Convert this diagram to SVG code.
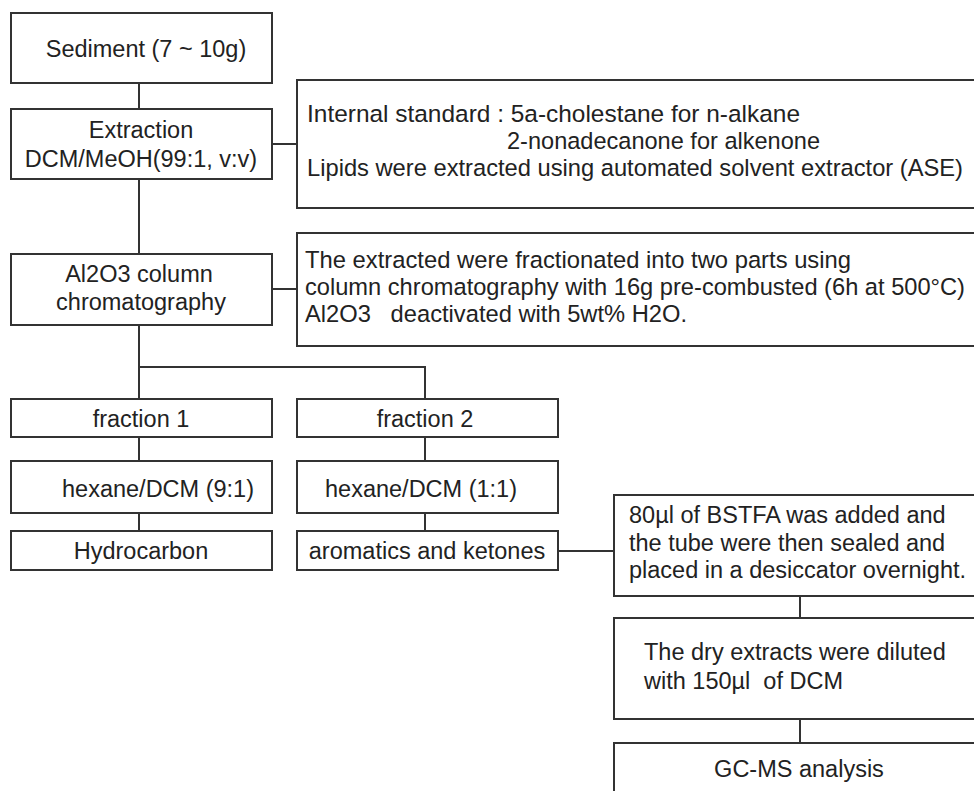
<svg xmlns="http://www.w3.org/2000/svg" width="974" height="791" viewBox="0 0 974 791">
<style>
.box{fill:#fff;stroke:#333;stroke-width:2}
.con{fill:none;stroke:#333;stroke-width:2}
text{font-family:"Liberation Sans",Arial,sans-serif;font-size:23.5px;fill:#222}
.n{font-size:24.5px}
.c{text-anchor:middle}
</style>
<rect width="974" height="791" fill="#fff"/>
<g id="connectors">
<path class="con" d="M139 83V109"/>
<path class="con" d="M272 144H297"/>
<path class="con" d="M139 179V254"/>
<path class="con" d="M272 289H297"/>
<path class="con" d="M139 325V399"/>
<path class="con" d="M139 367H425V399"/>
<path class="con" d="M139 437V461"/>
<path class="con" d="M425 437V461"/>
<path class="con" d="M139 513V531"/>
<path class="con" d="M425 513V531"/>
<path class="con" d="M558 551H614"/>
<path class="con" d="M800 596V618"/>
<path class="con" d="M800 719V743"/>
</g>
<g id="sediment">
<rect class="box" x="11" y="13" width="261" height="70"/>
<text class="c" x="146" y="57">Sediment (7 ~ 10g)</text>
</g>
<g id="extraction">
<rect class="box" x="11" y="109" width="261" height="70"/>
<text class="c" x="141" y="138">Extraction</text>
<text class="c" x="141" y="167">DCM/MeOH(99:1, v:v)</text>
</g>
<g id="note-extraction">
<rect class="box" x="297" y="80" width="690" height="128"/>
<text class="n" x="307" y="122" textLength="493" lengthAdjust="spacingAndGlyphs">Internal standard : 5a-cholestane for n-alkane</text>
<text class="n" x="507" y="149" textLength="313" lengthAdjust="spacingAndGlyphs">2-nonadecanone for alkenone</text>
<text class="n" x="307" y="176" textLength="656" lengthAdjust="spacingAndGlyphs">Lipids were extracted using automated solvent extractor (ASE)</text>
</g>
<g id="column">
<rect class="box" x="11" y="254" width="261" height="71"/>
<text class="c" x="139" y="282">Al2O3 column</text>
<text class="c" x="141" y="310">chromatography</text>
</g>
<g id="note-column">
<rect class="box" x="297" y="233" width="690" height="113"/>
<text class="n" x="305" y="268" textLength="546" lengthAdjust="spacingAndGlyphs">The extracted were fractionated into two parts using</text>
<text class="n" x="305" y="295" textLength="660" lengthAdjust="spacingAndGlyphs">column chromatography with 16g pre-combusted (6h at 500°C)</text>
<text class="n" x="305" y="322" xml:space="preserve" textLength="382" lengthAdjust="spacingAndGlyphs">Al2O3   deactivated with 5wt% H2O.</text>
</g>
<g id="fraction1">
<rect class="box" x="11" y="399" width="261" height="38"/>
<text class="c" x="141" y="427">fraction 1</text>
</g>
<g id="fraction2">
<rect class="box" x="297" y="399" width="261" height="38"/>
<text class="c" x="425" y="427">fraction 2</text>
</g>
<g id="hexane1">
<rect class="box" x="11" y="461" width="261" height="52"/>
<text x="62" y="497">hexane/DCM (9:1)</text>
</g>
<g id="hexane2">
<rect class="box" x="297" y="461" width="261" height="52"/>
<text x="325" y="497">hexane/DCM (1:1)</text>
</g>
<g id="hydrocarbon">
<rect class="box" x="11" y="531" width="261" height="39"/>
<text class="c" x="141" y="559">Hydrocarbon</text>
</g>
<g id="aromatics">
<rect class="box" x="297" y="531" width="261" height="39"/>
<text class="c" x="427" y="559">aromatics and ketones</text>
</g>
<g id="bstfa">
<rect class="box" x="614" y="495" width="380" height="101"/>
<text x="629" y="523">80µl of BSTFA was added and</text>
<text x="629" y="551">the tube were then sealed and</text>
<text x="629" y="578">placed in a desiccator overnight.</text>
</g>
<g id="dilute">
<rect class="box" x="614" y="618" width="380" height="101"/>
<text x="644" y="660">The dry extracts were diluted</text>
<text x="644" y="689" xml:space="preserve">with 150µl  of DCM</text>
</g>
<g id="gcms">
<rect class="box" x="614" y="743" width="380" height="80"/>
<text class="c" x="799" y="777">GC-MS analysis</text>
</g>
</svg>
